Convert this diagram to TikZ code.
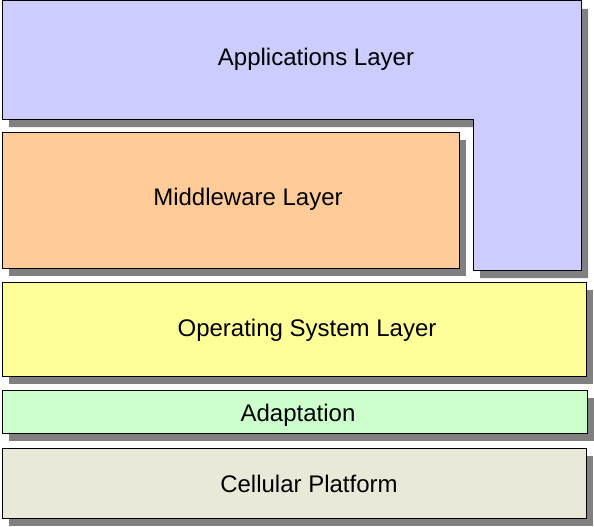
\documentclass[tikz,border=0pt]{standalone}
\usepackage{fontspec}
\setmainfont{Liberation Sans}
\definecolor{appblue}{RGB}{204,204,255}
\definecolor{mworange}{RGB}{255,204,153}
\definecolor{osyellow}{RGB}{255,255,153}
\definecolor{adgreen}{RGB}{204,255,204}
\definecolor{cellbeige}{RGB}{234,232,216}
\definecolor{shadowgray}{RGB}{128,128,128}
\begin{document}
\begin{tikzpicture}[x=1pt,y=-1pt,
    layerbox/.style={draw=black, line width=1pt},
    dropshadow/.style={fill=shadowgray, shift={(7,8)}},
    layertext/.style={font=\fontsize{24}{28}\selectfont, inner sep=0pt, text depth=0pt}]
    \useasboundingbox (0,0) rectangle (594,527);
    %Shadows and boxes
    \fill[dropshadow] (2,1) -- (581,1) -- (581,270) -- (473,270) -- (473,119) -- (2,119) -- cycle;
    \draw[layerbox, fill=appblue] (2,1) -- (581,1) -- (581,270) -- (473,270) -- (473,119) -- (2,119) -- cycle;
    \fill[dropshadow] (2,132) rectangle (459,268);
    \draw[layerbox, fill=mworange] (2,132) rectangle (459,268);
    \fill[dropshadow] (2,282) rectangle (586,376);
    \draw[layerbox, fill=osyellow] (2,282) rectangle (586,376);
    \fill[dropshadow] (2,390) rectangle (587,433);
    \draw[layerbox, fill=adgreen] (2,390) rectangle (587,433);
    \fill[dropshadow] (2,448) rectangle (586,518);
    \draw[layerbox, fill=cellbeige] (2,448) rectangle (586,518);
    %Labels
    \node[layertext] (apps) at (316,57) {Applications Layer};
    \node[layertext] (middleware) at (248,197) {Middleware Layer};
    \node[layertext] (os) at (307,328) {Operating System Layer};
    \node[layertext] (adaptation) at (298,413) {Adaptation};
    \node[layertext] (cellular) at (309,484) {Cellular Platform};
\end{tikzpicture}
\end{document}
